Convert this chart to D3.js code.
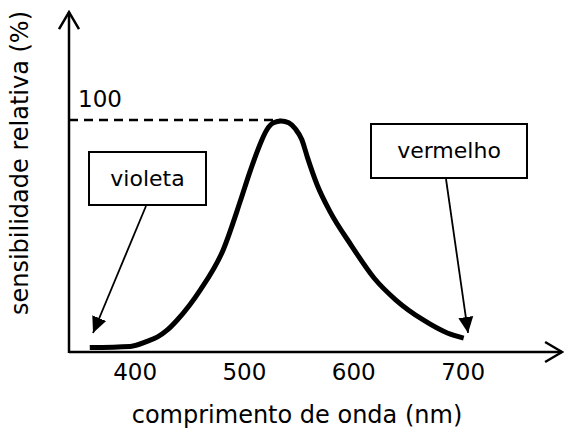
<!DOCTYPE html>
<html>
<head>
<meta charset="utf-8">
<script src="https://cdn.jsdelivr.net/npm/d3@7"></script>
<style>
  body { margin: 0; background: #fff; }
  text { font-family: Verdana, "DejaVu Sans", sans-serif; fill: #000; }
</style>
</head>
<body>
<div id="chart"></div>
<script>
// Data
var wavelength = [359, 396, 412, 421, 430, 439, 460, 481, 497, 505, 511, 516, 521, 527, 534,
                  541, 547, 553, 558, 567, 579, 598, 619, 639, 664, 686, 701];
var sensitivity = [1.9, 2.4, 4.7, 6.5, 9.5, 13.8, 26.7, 44.0, 65.5, 77.0, 85.0, 91.0, 95.8, 98.8, 99.6,
                   98.8, 96.2, 91.5, 84.0, 72.0, 60.3, 46.1, 31.9, 22.4, 13.8, 8.2, 6.0];
var xTicks = [400, 500, 600, 700];
var yTicks = [100];
var labelNames = ["violeta", "vermelho"];
var labelTargetX = [362, 705];
var labelTargetY = [8.2, 8.2];

var svgWidth = 564;
var svgHeight = 433;

var svg = d3.select("#chart")
    .append("svg")
    .attr("width", svgWidth)
    .attr("height", svgHeight);

// scales
var xScale = d3.scaleLinear()
    .domain([400, 700])
    .range([134.6, 462.6]);

var yScale = d3.scaleLinear()
    .domain([0, 100])
    .range([352, 120]);

var xEnd = 791;   // where the x axis arrow ends (nm)
var yEnd = 146.5; // where the y axis arrow ends (%)
var x0 = xScale.invert(69);

// markers
var defs = svg.append("defs");
defs.append("marker")
    .attr("id", "chevron")
    .attr("markerUnits", "userSpaceOnUse")
    .attr("viewBox", "-20 -12 22 24")
    .attr("refX", 0).attr("refY", 0)
    .attr("markerWidth", 22).attr("markerHeight", 24)
    .attr("orient", "auto")
    .append("path")
    .attr("d", "M-17,-10L0,0L-17,10")
    .attr("fill", "none")
    .attr("stroke", "#000")
    .attr("stroke-width", 2.5);

defs.append("marker")
    .attr("id", "head")
    .attr("markerUnits", "userSpaceOnUse")
    .attr("viewBox", "-16 -8 16 16")
    .attr("refX", 0).attr("refY", 0)
    .attr("markerWidth", 16).attr("markerHeight", 16)
    .attr("orient", "auto")
    .append("path")
    .attr("d", "M-16,-7.5L0,0L-16,7.5Z")
    .attr("fill", "#000");

// axes lines with open arrows
svg.append("line")
    .attr("x1", xScale(x0)).attr("y1", yScale(0))
    .attr("x2", xScale(xEnd)).attr("y2", yScale(0))
    .attr("stroke", "#000").attr("stroke-width", 2.5)
    .attr("marker-end", "url(#chevron)");

svg.append("line")
    .attr("x1", xScale(x0)).attr("y1", yScale(0) + 1)
    .attr("x2", xScale(x0)).attr("y2", yScale(yEnd))
    .attr("stroke", "#000").attr("stroke-width", 2.5)
    .attr("marker-end", "url(#chevron)");

// tick labels through d3 axis
var bottomAxis = d3.axisBottom(xScale)
    .tickValues(xTicks)
    .tickSize(0)
    .tickPadding(11)
    .tickFormat(d3.format("d"));

var xAxis = svg.append("g")
    .attr("transform", `translate(0,${yScale(0)})`)
    .call(bottomAxis);
xAxis.select(".domain").remove();
xAxis.selectAll("text")
    .attr("font-size", 23)
    .attr("font-family", "Verdana, DejaVu Sans, sans-serif")
    .attr("dy", "0.72em");

var leftAxis = d3.axisRight(yScale)
    .tickValues(yTicks)
    .tickSize(0)
    .tickPadding(9);

var yAxis = svg.append("g")
    .attr("transform", `translate(${xScale(x0)},0)`)
    .call(leftAxis);
yAxis.select(".domain").remove();
yAxis.selectAll("text")
    .attr("font-size", 23)
    .attr("font-family", "Verdana, DejaVu Sans, sans-serif")
    .attr("dy", "-0.6em");

// dashed line at 100%
svg.append("line")
    .attr("x1", xScale(x0)).attr("y1", yScale(100))
    .attr("x2", xScale(534)).attr("y2", yScale(100))
    .attr("stroke", "#000").attr("stroke-width", 2.6)
    .attr("stroke-dasharray", "9,6");

// curve
var data = wavelength.map((w, i) => ({ w: w, v: sensitivity[i] }));
var line = d3.line()
    .x(d => xScale(d.w))
    .y(d => yScale(d.v))
    .curve(d3.curveMonotoneX);

svg.append("path")
    .datum(data)
    .attr("d", line)
    .attr("fill", "none")
    .attr("stroke", "#000")
    .attr("stroke-width", 5)
    .attr("stroke-linejoin", "round");

// annotation boxes
var boxes = [
    { x: 89, y: 152, w: 117, h: 53, ax: 146 },
    { x: 371, y: 124, w: 156, h: 54, ax: 446 }
];

boxes.forEach(function (b, i) {
    svg.append("rect")
        .attr("x", b.x).attr("y", b.y)
        .attr("width", b.w).attr("height", b.h)
        .attr("fill", "#fff")
        .attr("stroke", "#000")
        .attr("stroke-width", 2);
    svg.append("text")
        .attr("x", b.x + b.w / 2)
        .attr("y", b.y + b.h / 2 + 7)
        .attr("text-anchor", "middle")
        .attr("font-size", 22)
        .text(labelNames[i]);
    svg.append("line")
        .attr("x1", b.ax).attr("y1", b.y + b.h + 1)
        .attr("x2", xScale(labelTargetX[i])).attr("y2", yScale(labelTargetY[i]))
        .attr("stroke", "#000").attr("stroke-width", 1.8)
        .attr("marker-end", "url(#head)");
});

// axis titles
svg.append("text")
    .attr("x", 297)
    .attr("y", 423)
    .attr("text-anchor", "middle")
    .attr("font-size", 24)
    .text("comprimento de onda (nm)");

svg.append("text")
    .attr("transform", "translate(28,163) rotate(-90)")
    .attr("text-anchor", "middle")
    .attr("font-size", 24)
    .text("sensibilidade relativa (%)");
</script>
</body>
</html>
